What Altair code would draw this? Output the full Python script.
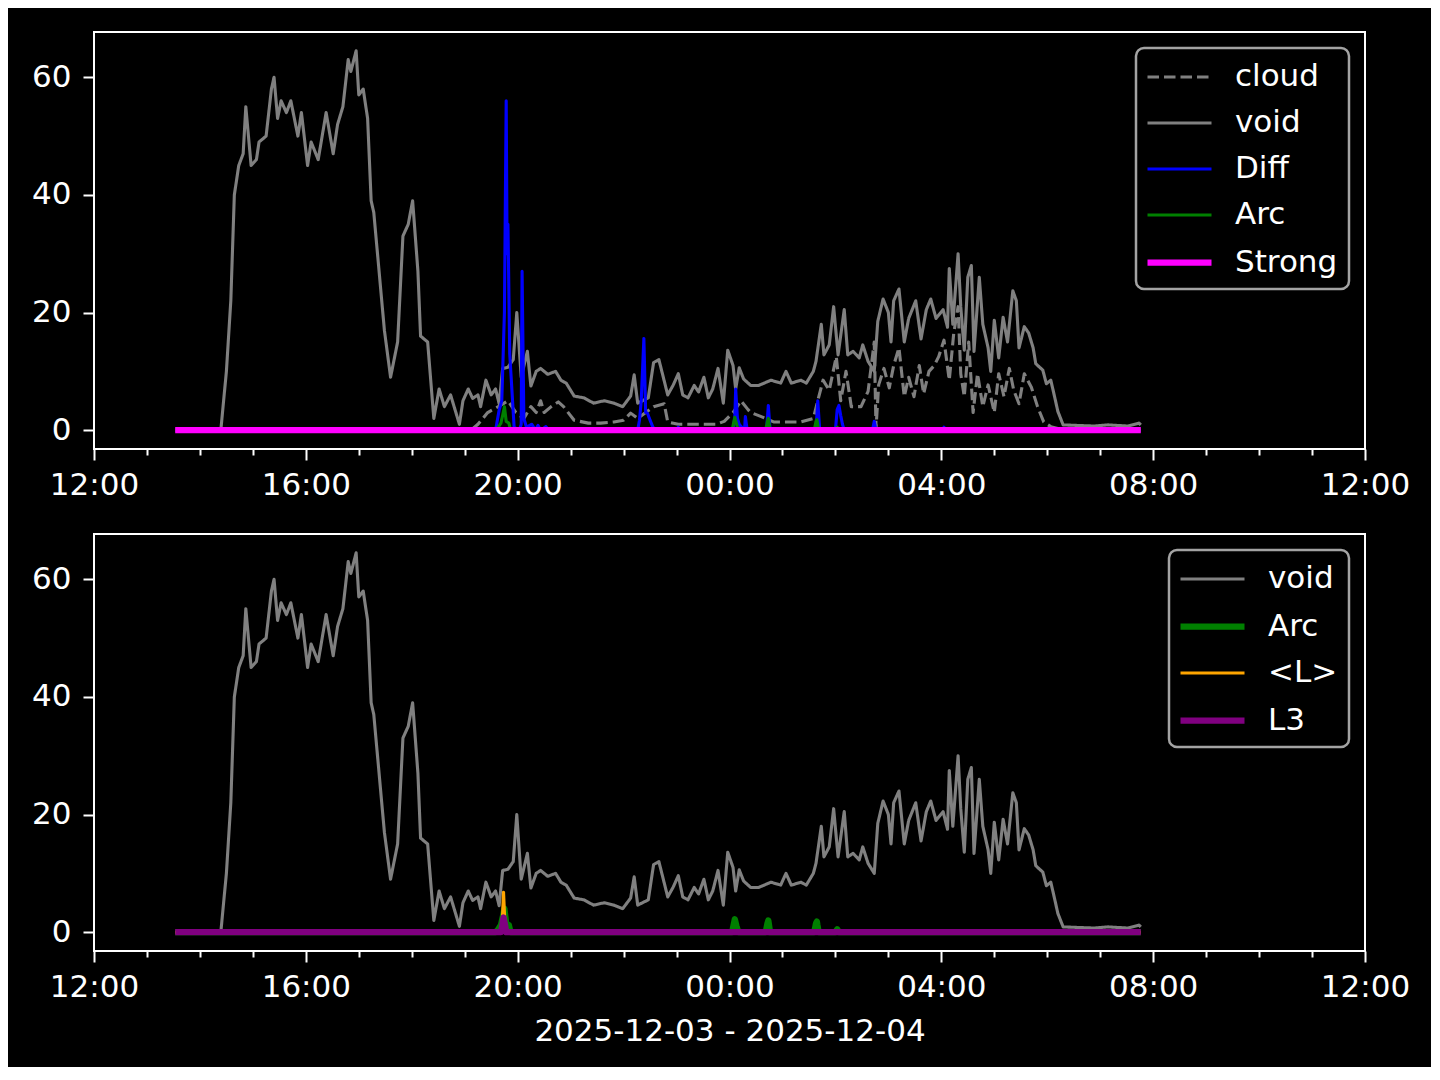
import altair as alt
import pandas as pd

BASE = pd.Timestamp("2025-12-03 12:00")

# minutes after 2025-12-03 12:00, values
void_min = [92,143,144,150,155,159,164,169,172,178,
            184,187,195,201,204,208,212,218,223,231,
            235,242,246,254,263,271,276,282,288,291,
            297,300,305,310,314,317,323,329,336,344,
            350,356,361,367,370,378,385,391,397,404,
            414,418,424,429,435,438,444,450,455,459,
            463,469,475,479,484,491,495,501,506,514,
            523,529,535,544,555,566,578,589,599,608,
            612,616,628,634,640,645,650,656,662,667,
            673,680,685,691,696,701,707,713,718,724,
            727,731,736,744,753,767,778,784,790,801,
            807,815,818,824,827,833,838,843,850,854,
            860,867,871,877,884,888,894,900,903,906,
            912,918,923,931,937,943,948,954,962,967,
            969,973,979,982,986,990,994,997,1003,1007,
            1013,1016,1020,1025,1030,1035,1041,1045,1048,1054,
            1059,1064,1067,1075,1079,1084,1088,1092,1098,1115,
            1133,1149,1171,1184,1186]
void_val = [0,0,0.5,10,22,40,45,47,55,45,
            46,49,50,58,60,53,56,54,56,50,
            54,45,49,46,54,47,52,55,63,61,
            64.5,57,58,53,39,37,27,17,9,15,
            33,35,39,27,16,15,2,7,4,6,
            1,5,7,5.4,6,4,8.5,6,7,4.5,
            10.5,10.7,12,20,9,13.4,7.5,10,10.5,9.5,
            10,8.5,8,5.8,5.5,4.6,5,4.6,4,5.8,
            9.4,4.6,5.5,11.5,12,9,6,7.6,9.6,6,
            5.5,7.6,6.5,9,5.5,7,10.5,4.6,13.6,11,
            7,10.6,8.7,7.6,7.6,8.5,8,10,8,8.5,
            8,10,11.7,18,12.8,14.5,21,12.8,20.5,12.8,
            13.4,12.3,14.5,11.7,10,18.5,22.3,20,15,22,
            24,15,19,22,15.5,20.5,22.3,19,20.5,17.5,
            27.5,18,30,21,13.6,26,28,13.4,26,18,
            14,10,18.7,12.3,19.2,15,23.7,22,14,17.6,
            16.5,14,11.3,10.2,7.9,8.5,5.9,3.2,0.9,0.8,
            0.7,0.9,0.7,1.2,0.9]

cloud_min = [92,427,435,446,458,469,478,487,495,501,
             506,510,518,526,532,544,560,574,589,600,
             608,616,625,634,646,650,662,688,705,714,
             724,733,741,744,756,770,786,801,815,820,
             826,833,841,846,852,858,869,877,884,886,
             889,895,901,906,912,918,923,929,935,940,
             946,952,957,963,969,974,979,982,986,991,
             996,1001,1007,1013,1020,1025,1031,1037,1042,1048,
             1054,1062,1069,1076,1084,1092,1101,1186]
cloud_val = [0,0,1,3,4,5,3,2,4,3,
             5,3,4,4.8,4,1.7,1.2,1.2,1.4,1.7,
             2.9,2,3,4,4.5,1.4,1,1,1,1.5,
             3,5,3.5,3,2.3,1.4,1.4,1.4,2,5,
             8.5,6.8,12.5,5,10,4,4,6.6,15,0.3,
             7.7,10.5,7.2,11,14,5.7,9,5.7,11,6.2,
             10,11,12.5,15.3,8.5,16.4,21,9.6,5.7,15,
             3,9.6,4,7.7,3,9.6,5.7,10.5,6.8,4.5,
             9.6,7.3,4,1.4,0.6,0.3,0,0]

diff_min = [92,455,459,462,465,467,468,469,471,473,
            476,482,484,485,487,490,496,500,503,506,
            512,515,616,618,620,623,625,627,630,633,
            636,660,662,664,724,726,727,729,731,737,
            738,740,762,764,766,818,820,822,824,840,
            842,844,846,848,850,882,884,886,961,963,
            965,1186]
diff_val = [0,0,3.4,5,20,56,30,35,13,8,
            0.5,0,1,27,2,0.5,1,0,0.8,0,
            0.6,0,0,1.7,5,15.6,3,2.9,1.7,0.6,
            0,0,0.5,0,0,2,7,2,1,0,
            2.3,0,0,4.2,0,0,5,0.5,0,0,
            3.5,4.2,2.5,1,0,0,1.5,0,0,0.5,
            0,0]

arc_min = [92,455,458,461,463,465,467,470,472,723,
           725,726,728,730,761,763,764,766,816,818,
           819,821,840,842,844,1186]
arc_val = [0,0,0.5,1.2,2.5,4,1.5,1.2,0,0,
           1.5,2.2,1,0,0,1.5,2,0,0,1.5,
           1.8,0,0,0.5,0,0]

lavg_min = [92,462,464,466,1186]
lavg_val = [0,0,6.8,0,0]

l3_min = [92,461,463,464,466,467,1186]
l3_val = [0,0,1.5,2.5,1,0,0]

strong_min = [92,1186]
strong_val = [0,0]

top_names = ["cloud", "void", "Diff", "Arc", "Strong"]
top_colors = ["#808080", "#808080", "#0000ff", "#008000", "#ff00ff"]
top_dash = [[11.5, 5], [1, 0], [1, 0], [1, 0], [1, 0]]
top_widths = [3.1, 3.1, 3.1, 3.1, 6.25]

bot_names = ["void", "Arc", "<L>", "L3"]
bot_colors = ["#808080", "#008000", "#ffa500", "#800080"]
bot_dash = [[1, 0], [1, 0], [1, 0], [1, 0]]
bot_widths = [3.1, 6.25, 3.1, 6.25]

x_title = "2025-12-03 - 2025-12-04"


def frame(mins, vals, name):
    assert len(mins) == len(vals), name
    return pd.DataFrame({
        "t": [BASE + pd.Timedelta(minutes=m) for m in mins],
        "v": vals,
        "s": name,
    })


series = {
    "cloud": (cloud_min, cloud_val),
    "void": (void_min, void_val),
    "Diff": (diff_min, diff_val),
    "Arc": (arc_min, arc_val),
    "Strong": (strong_min, strong_val),
    "<L>": (lavg_min, lavg_val),
    "L3": (l3_min, l3_val),
}

hours = [alt.DateTime(year=2025, month=12, date=3 + (12 + h) // 24, hours=(12 + h) % 24)
         for h in range(25)]
x_domain = [alt.DateTime(year=2025, month=12, date=3, hours=12),
            alt.DateTime(year=2025, month=12, date=4, hours=12)]

FONT = "DejaVu Sans"
FS = 31


def x_axis(with_title):
    kw = dict(
        values=hours,
        labelExpr="hours(datum.value) % 4 == 0 ? timeFormat(datum.value, '%H:%M') : ''",
        tickSize={"condition": {"test": "hours(datum.value) % 4 == 0", "value": 11}, "value": 6},
        tickWidth=2, tickColor="#ffffff", labelColor="#ffffff",
        labelFont=FONT, labelFontSize=FS, labelPadding=10,
        labelOverlap=False, labelFlush=False,
        domain=False, grid=False,
    )
    if with_title:
        kw.update(titleFont=FONT, titleFontSize=FS, titleFontWeight="normal",
                  titleColor="#ffffff", titlePadding=14)
    else:
        kw.update(minExtent=60, maxExtent=60)
    return alt.Axis(**kw)


y_axis = alt.Axis(values=[0, 20, 40, 60], tickSize=11, tickWidth=2, tickColor="#ffffff",
                  labelColor="#ffffff", labelFont=FONT, labelFontSize=FS, labelPadding=12,
                  minExtent=80, maxExtent=80, domain=False, grid=False)


def legend():
    return alt.Legend(title=None, orient="top-right", offset=16, symbolType="M-2,0H2",
                      symbolSize=1024, symbolOffset=13, labelFont=FONT, labelFontSize=FS,
                      labelColor="#ffffff", labelOffset=36, rowPadding=13, padding=11,
                      fillColor="#000000", strokeColor="#a3a3a3", cornerRadius=8,
                      symbolOpacity=1)


def panel(names, colors, dashes, widths, with_title):
    df = pd.concat([frame(*series[n], n) for n in names], ignore_index=True)
    x = alt.X("t:T", title=x_title if with_title else None,
              scale=alt.Scale(domain=x_domain, nice=False), axis=x_axis(with_title))
    y = alt.Y("v:Q", title=None, scale=alt.Scale(domain=[-3.2, 67.7], nice=False, zero=False),
              axis=y_axis)
    lg = legend()
    layers = []
    for n in names:
        layers.append(
            alt.Chart(df).transform_filter(alt.datum.s == n)
            .mark_line(strokeJoin="round", clip=True)
            .encode(
                x=x, y=y,
                color=alt.Color("s:N", scale=alt.Scale(domain=names, range=colors), legend=lg),
                strokeDash=alt.StrokeDash("s:N", scale=alt.Scale(type="ordinal", domain=names, range=dashes), legend=lg),
                strokeWidth=alt.StrokeWidth("s:N", scale=alt.Scale(type="ordinal", domain=names, range=widths), legend=lg),
            )
        )
    return alt.layer(*layers).properties(width=1271, height=417)


top = panel(top_names, top_colors, top_dash, top_widths, False)
bottom = panel(bot_names, bot_colors, bot_dash, bot_widths, True)

chart = (
    alt.vconcat(top, bottom, spacing=23)
    .resolve_scale(color="independent", strokeDash="independent", strokeWidth="independent")
    .configure(background="#000000", font=FONT,
               padding={"left": 5, "top": 23, "right": 20, "bottom": 20})
    .configure_view(stroke="#ffffff", strokeWidth=2)
    .configure_legend(strokeWidth=2.5)
)

chart.save("out.html", embed_options={"renderer": "svg", "actions": False})
